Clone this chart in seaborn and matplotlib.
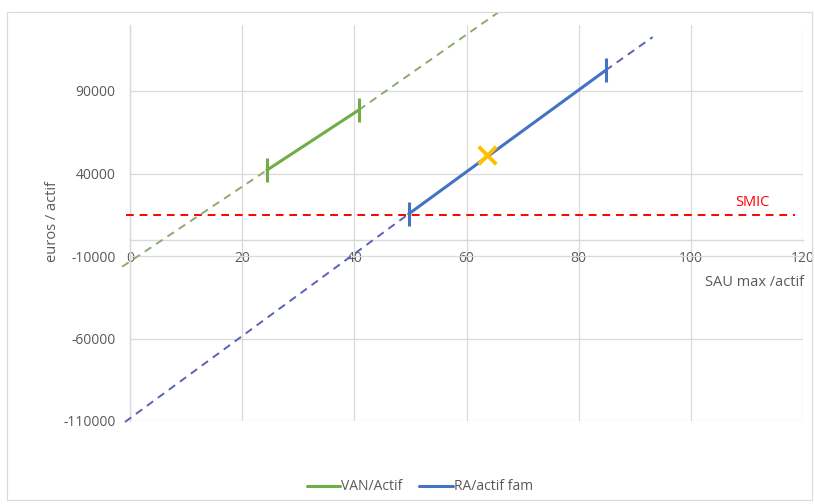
import matplotlib
matplotlib.use("Agg")
import matplotlib.pyplot as plt
import seaborn as sns
import pandas as pd
from matplotlib.lines import Line2D
from matplotlib.patches import Rectangle

# ---- data ----
van_x = [24.4, 40.8]
van_y = [42000, 78500]
van_ext_start = [-1.4, -16500]
van_ext_end = [65.6, 137500]
ra_x = [49.7, 84.8]
ra_y = [15500, 102500]
ra_ext_start = [-0.9, -110600]
ra_ext_end = [93.2, 122700]
smic_x = [-0.7, 118.5]
smic_y = [15000, 15000]
point_x = [63.6]
point_y = [51000]
x_ticks = [0, 20, 40, 60, 80, 100, 120]
y_ticks = [-110000, -60000, -10000, 40000, 90000]
series_names = ["VAN/Actif", "RA/actif fam"]

sns.set_theme(style="white")
plt.rcParams["font.family"] = ["Open Sans", "DejaVu Sans"]

GREEN = "#70AD47"
BLUE = "#4472C4"
GRID = "#D9D9D9"
TXT = "#595959"

fig = plt.figure(figsize=(8.15, 5.04), dpi=100)
fig.patch.set_facecolor("white")
fig.patches.append(Rectangle((7 / 815, 4 / 504), 805 / 815, 488 / 504, transform=fig.transFigure,
                             fill=False, edgecolor="#D9D9D9", linewidth=0.8))
ax = fig.add_axes([130 / 815, 1 - 421 / 504, 673 / 815, 396 / 504])

ax.set_xlim(0, 120)
ax.set_ylim(-110000, 130000)

dash = (0, (4, 3))
# dashed extensions (before and after each solid segment)
for (sx, sy), (ex, ey), col in [
    ((van_ext_start[0], van_ext_start[1]), (van_x[0], van_y[0]), "#8FAA6E"),
    ((van_x[1], van_y[1]), (van_ext_end[0], van_ext_end[1]), "#8FAA6E"),
    ((ra_ext_start[0], ra_ext_start[1]), (ra_x[0], ra_y[0]), "#5A62B8"),
    ((ra_x[1], ra_y[1]), (ra_ext_end[0], ra_ext_end[1]), "#5A62B8"),
]:
    sns.lineplot(x=[sx, ex], y=[sy, ey], ax=ax, color=col, linestyle=dash,
                 linewidth=1.4, clip_on=False, zorder=3)
# SMIC
sns.lineplot(x=smic_x, y=smic_y, ax=ax, color="#FF0000", linestyle=dash,
             linewidth=1.4, clip_on=False, zorder=3)
ax.text(110.9, 22500, "SMIC", color="#FF0000", fontsize=10.5, ha="center", va="center")

# solid segments
df = pd.DataFrame({
    "x": van_x + ra_x,
    "y": van_y + ra_y,
    "serie": [series_names[0]] * 2 + [series_names[1]] * 2,
})
sns.lineplot(data=df, x="x", y="y", hue="serie", palette=[GREEN, BLUE], ax=ax,
             linewidth=2.2, legend=False, zorder=4)
# vertical end ticks
sns.scatterplot(data=df, x="x", y="y", hue="serie", palette=[GREEN, BLUE], ax=ax,
                marker="|", s=300, linewidth=2.2, legend=False, zorder=5)

# yellow cross
sns.scatterplot(x=point_x, y=point_y, ax=ax, marker="x", s=160, color="#FFC000",
                linewidth=2.8, zorder=6)

# axes styling
ax.set_xlabel("")
ax.set_ylabel("")
ax.set_xticks(x_ticks)
ax.set_yticks(y_ticks)
ax.set_xticklabels([str(v) for v in x_ticks])
ax.set_yticklabels([str(v) for v in y_ticks])
ax.grid(True, color=GRID, linewidth=0.9)
ax.set_axisbelow(True)
for s in ["top", "right"]:
    ax.spines[s].set_visible(False)
ax.spines["bottom"].set_position(("data", 0))
ax.spines["bottom"].set_color(GRID)
ax.spines["left"].set_color(GRID)
ax.spines["bottom"].set_linewidth(1.0)
ax.spines["left"].set_linewidth(1.0)
ax.tick_params(axis="both", length=0, labelsize=10, labelcolor=TXT)
ax.tick_params(axis="x", pad=8.5)
ax.tick_params(axis="y", pad=10.5)

fig.text(52 / 815, 1 - 222 / 504, "euros / actif", rotation=90, ha="center", va="center",
         fontsize=10.5, color=TXT)
fig.text(804 / 815, 1 - 282 / 504, "SAU max /actif", ha="right", va="center",
         fontsize=10.5, color=TXT)

handles = [Line2D([0], [0], color=GREEN, lw=2.2), Line2D([0], [0], color=BLUE, lw=2.2)]
fig.legend(handles, series_names, loc="center", bbox_to_anchor=(420 / 815, 1 - 487 / 504),
           ncol=2, frameon=False, fontsize=10, labelcolor=TXT, handlelength=2.4,
           handletextpad=0.1, columnspacing=1.2)

fig.savefig("out.png", dpi=100)
